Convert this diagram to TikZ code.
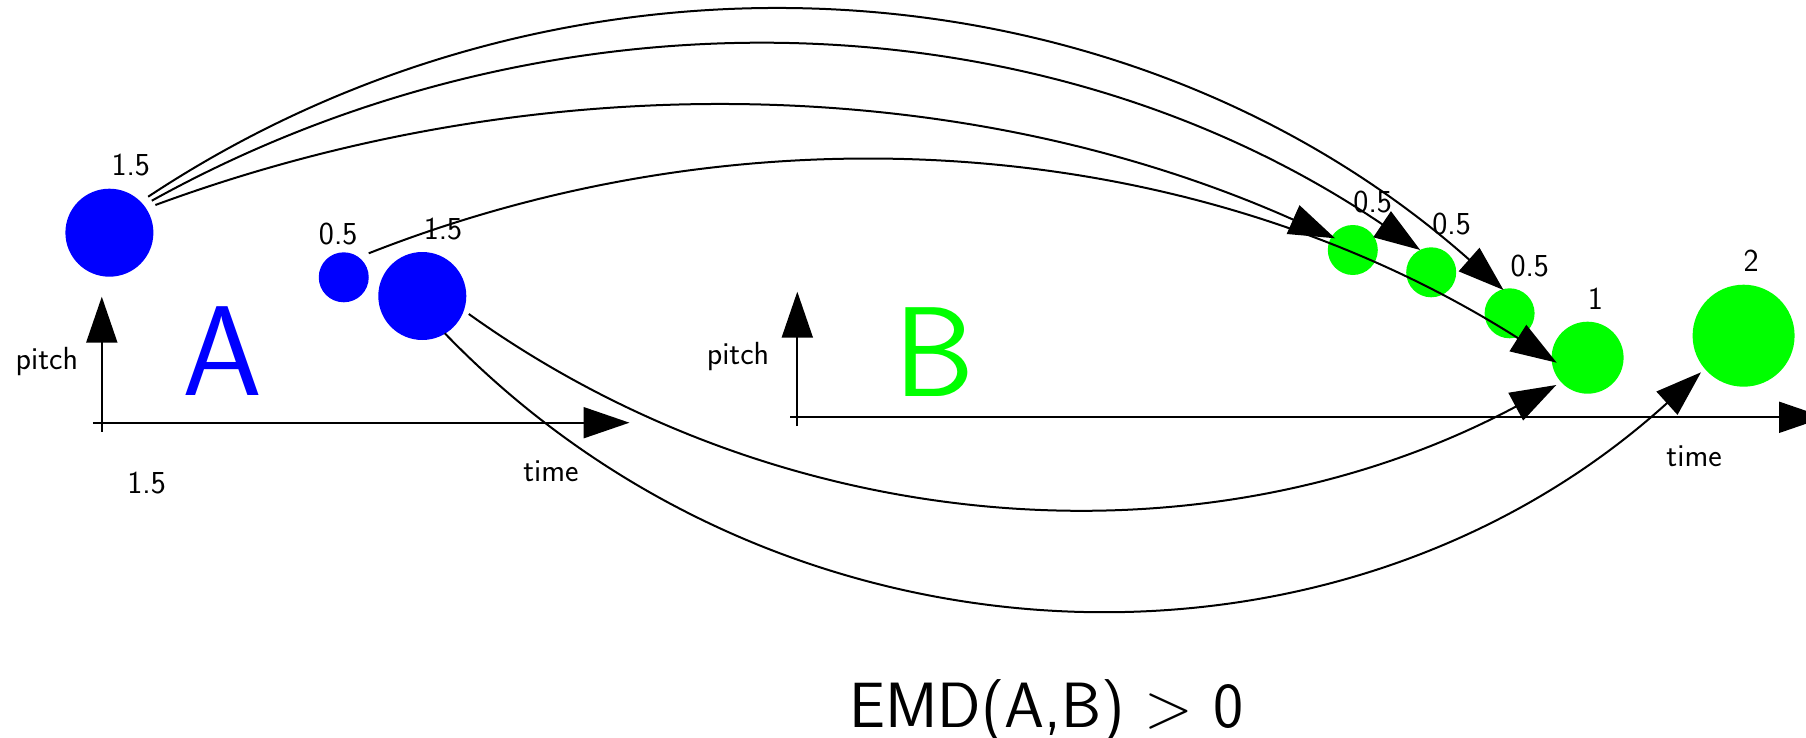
\RequirePackage{fix-cm}
\documentclass[tikz,border=0pt]{standalone}
\usepackage{fontspec}
\usetikzlibrary{arrows.meta,calc}
\definecolor{ablue}{RGB}{0,0,255}
\definecolor{bgreen}{RGB}{0,255,0}
\tikzset{
  arrowtip/.style={-{Triangle[length=23pt,width=15.5pt]}},
  ax/.style={line width=1pt, arrowtip},
  conn/.style={line width=1pt, arrowtip},
  blob/.style={circle, inner sep=0pt, outer sep=0pt, draw=none},
  bluedot/.style={blob, fill=ablue},
  greendot/.style={blob, fill=bgreen},
  lbl/.style={font=\sffamily\fontsize{16}{19}\selectfont, anchor=base, inner sep=0pt},
  bigletter/.style={font=\sffamily\fontsize{64}{70}\selectfont, anchor=base, inner sep=0pt},
  emdtext/.style={font=\sffamily\fontsize{32}{36}\selectfont, anchor=base, inner sep=0pt},
}
\begin{document}
\begin{tikzpicture}[x=0.5pt,y=-0.5pt]
\clip (0,0) rectangle (1806,738);
% set A
\node[bluedot, minimum size=44pt] (a1) at (109.4,232.7) {};
\node[bluedot, minimum size=25pt] (a2) at (343.75,277.3) {};
\node[bluedot, minimum size=44pt] (a3) at (422.3,296) {};
% set B
\node[greendot, minimum size=25pt] (g1) at (1352.8,250) {};
\node[greendot, minimum size=25pt] (g2) at (1431.2,272.3) {};
\node[greendot, minimum size=25pt] (g3) at (1509.6,313.3) {};
\node[greendot, minimum size=36pt] (g4) at (1587.6,357.7) {};
\node[greendot, minimum size=51pt] (g5) at (1743.6,335.7) {};
% weights
\node[lbl] (wa1) at (130.8,176) {1.5};
\node[lbl] (wa2) at (338.2,244.3) {0.5};
\node[lbl] (wa3) at (443,239.3) {1.5};
\node[lbl] (wax) at (146.6,493.3) {1.5};
\node[lbl] (wg1) at (1372.7,212.7) {0.5};
\node[lbl] (wg2) at (1451.6,234.3) {0.5};
\node[lbl] (wg3) at (1529.8,276) {0.5};
\node[lbl] (wg4) at (1595.4,309.3) {1};
\node[lbl] (wg5) at (1751.2,271.7) {2};
% axes A
\coordinate (pa0) at (101.8,431.7);
\coordinate (pa1) at (101.8,296.7);
\coordinate (ta0) at (92.9,422.7);
\coordinate (ta1) at (629.5,422.7);
\draw[ax] (pa0) -- (pa1);
\draw[ax] (ta0) -- (ta1);
\node[lbl] (pitchA) at (46.9,369.3) {pitch};
\node[lbl] (timeA) at (550.9,481.7) {time};
\node[bigletter, text=ablue] (letA) at (222.8,395) {A};
% axes B
\coordinate (pb0) at (797.3,426);
\coordinate (pb1) at (797.3,291.7);
\coordinate (tb0) at (790,417.3);
\coordinate (tb1) at (1825,417.3);
\draw[ax] (pb0) -- (pb1);
\draw[ax] (tb0) -- (tb1);
\node[lbl] (pitchB) at (738,364) {pitch};
\node[lbl] (timeB) at (1694.1,466) {time};
\node[bigletter, text=bgreen] (letB) at (934.3,396) {B};
% title
\node[emdtext] (emd) at (1046.7,727.3) {EMD(A,B) $>$ 0};
% flows
\draw[conn] ($(a1)+(38.8,-36)$) .. controls +(-33.5:505) and +(-138.5:505) .. ($(g3)+(-6.1,-23.3)$);
\draw[conn] ($(a1)+(42.4,-32)$) .. controls +(-29.0:457) and +(-145.9:457) .. ($(g2)+(-11,-22.3)$);
\draw[conn] ($(a1)+(46,-27.7)$) .. controls +(-20.25:408) and +(-156:408) .. ($(g1)+(-17.7,-11.7)$);
\draw[conn] ($(a2)+(25,-24)$) .. controls +(-21.5:421) and +(-147.6:421) .. ($(g4)+(-30.9,5)$);
\draw[conn] ($(a3)+(46.5,18)$) .. controls +(35.6:393) and +(151.9:393) .. ($(g4)+(-31.3,27.3)$);
\draw[conn] ($(a3)+(22.5,37.3)$) .. controls +(46:488) and +(137.8:488) .. ($(g5)+(-42.6,36.6)$);
\end{tikzpicture}
\end{document}
